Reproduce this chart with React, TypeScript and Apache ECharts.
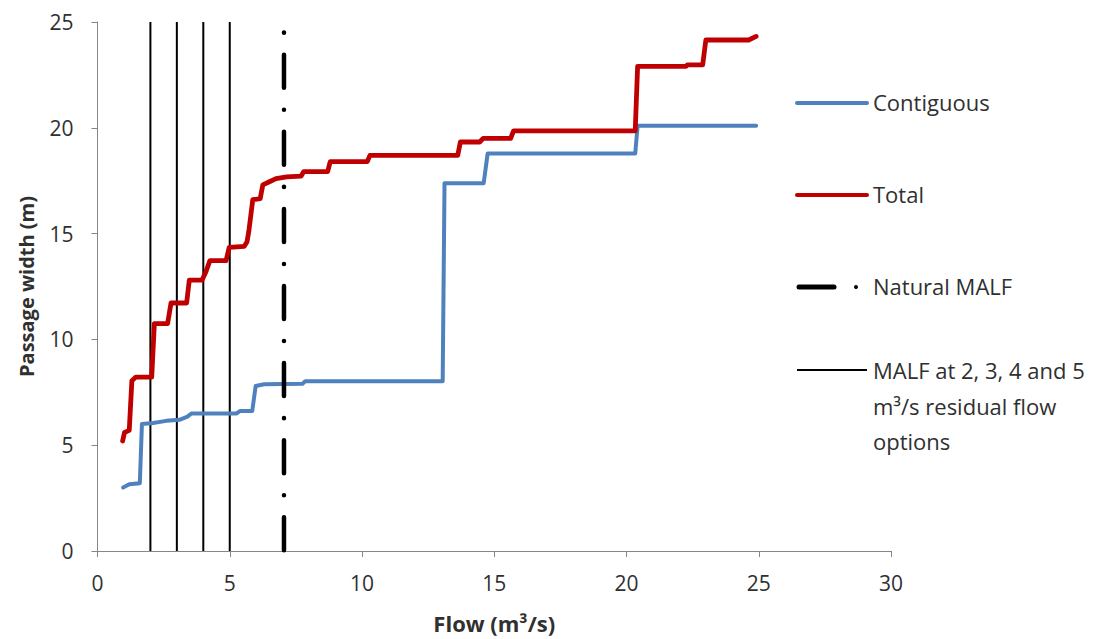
import React, { useEffect, useRef } from "react";
import * as echarts from "echarts";

// Contiguous passage width (m) vs flow (m³/s)
const contiguousFlow = [0.97, 1.2, 1.6, 1.68, 2.1, 2.6, 3.1, 3.4, 3.55, 5.25, 5.4, 5.85, 5.98, 6.3, 7.75, 7.85, 13.05, 13.12, 14.6, 14.75, 20.33, 20.42, 24.9];
const contiguousWidth = [3.0, 3.15, 3.2, 6.0, 6.05, 6.15, 6.2, 6.35, 6.5, 6.5, 6.62, 6.62, 7.8, 7.88, 7.9, 8.02, 8.02, 17.38, 17.38, 18.78, 18.78, 20.1, 20.1];

// Total passage width (m) vs flow (m³/s)
const totalFlow = [0.95, 1.02, 1.2, 1.3, 1.45, 2.05, 2.15, 2.65, 2.78, 3.37, 3.47, 3.95, 4.1, 4.25, 4.86, 4.98, 5.55, 5.65, 5.72, 5.87, 6.15, 6.25, 6.5, 6.75, 7.15, 7.7, 7.8, 8.7, 8.8, 10.2, 10.3, 13.62, 13.72, 14.45, 14.58, 15.62, 15.73, 20.33, 20.42, 22.25, 22.3, 22.88, 23.0, 24.62, 24.9];
const totalWidth = [5.2, 5.6, 5.7, 8.05, 8.22, 8.22, 10.75, 10.75, 11.72, 11.72, 12.8, 12.8, 13.2, 13.72, 13.72, 14.35, 14.4, 14.6, 15.1, 16.6, 16.65, 17.3, 17.45, 17.6, 17.68, 17.72, 17.93, 17.93, 18.4, 18.4, 18.7, 18.7, 19.33, 19.33, 19.5, 19.5, 19.85, 19.85, 22.9, 22.9, 22.97, 22.97, 24.15, 24.15, 24.32];

// Vertical reference lines
const residualMalfFlows = [2, 3, 4, 5];
const naturalMalfFlow = 7.05;
const naturalMalfTop = 24.5;
const axisTop = 25;

const xTicks = { min: 0, max: 30, interval: 5 };
const yTicks = { min: 0, max: 25, interval: 5 };

const legendLabels = ["Contiguous", "Total", "Natural MALF", "MALF at 2, 3, 4 and 5 m³/s residual flow options"];
const legendLastLines = ["MALF at 2, 3, 4 and 5", "m³/s residual flow", "options"];

const BLUE = "#4F81BD";
const RED = "#C00000";
const TEXT = "#303030";
const AXIS = "#868686";
const FONT = "'Open Sans', 'Liberation Sans', sans-serif";

export default function App() {
  const ref = useRef<HTMLDivElement>(null);
  useEffect(() => {
    if (!ref.current) return;
    const chart = echarts.init(ref.current, undefined, { renderer: "svg" });
    const pairs = (xs: number[], ys: number[]) => xs.map((x, i) => [x, ys[i]]);

    const series: any[] = [
      {
        name: legendLabels[0],
        type: "line",
        data: pairs(contiguousFlow, contiguousWidth),
        showSymbol: false,
        symbol: "none",
        lineStyle: { color: BLUE, width: 4, cap: "round", join: "round" },
        z: 3,
      },
      {
        name: legendLabels[1],
        type: "line",
        data: pairs(totalFlow, totalWidth),
        showSymbol: false,
        symbol: "none",
        lineStyle: { color: RED, width: 4.8, cap: "round", join: "round" },
        z: 3,
      },
      {
        name: legendLabels[2],
        type: "line",
        data: [
          [naturalMalfFlow, naturalMalfTop],
          [naturalMalfFlow, 0],
        ],
        showSymbol: false,
        symbol: "none",
        lineStyle: { color: "#000", width: 4.5, type: [0.1, 22, 33, 22], cap: "round" },
        z: 4,
      },
      ...residualMalfFlows.map((f) => ({
        name: legendLabels[3],
        type: "line",
        data: [
          [f, 0],
          [f, axisTop],
        ],
        showSymbol: false,
        symbol: "none",
        lineStyle: { color: "#000", width: 2 },
        z: 2,
      })),
    ];

    const lx0 = 797;
    const lx1 = 867;
    const tx = 873;
    const legendText = (y: number, text: string) => ({
      type: "text",
      x: tx,
      y,
      style: { text, font: `22px ${FONT}`, fill: TEXT, verticalAlign: "middle", align: "left" },
    });

    chart.setOption({
      animation: false,
      backgroundColor: "#fff",
      grid: { left: 97.5, right: 218, top: 22, bottom: 88, containLabel: false },
      xAxis: {
        type: "value",
        min: xTicks.min,
        max: xTicks.max,
        interval: xTicks.interval,
        name: "Flow (m³/s)",
        nameLocation: "middle",
        nameGap: 61,
        nameTextStyle: { fontFamily: FONT, fontSize: 22, fontWeight: "bold", color: TEXT },
        axisLine: { show: true, lineStyle: { color: AXIS, width: 1 } },
        axisTick: { show: true, length: 6, lineStyle: { color: AXIS } },
        splitLine: { show: false },
        axisLabel: { fontFamily: FONT, fontSize: 21, color: TEXT, margin: 21 },
      },
      yAxis: {
        type: "value",
        min: yTicks.min,
        max: yTicks.max,
        interval: yTicks.interval,
        name: "Passage width (m)",
        nameLocation: "middle",
        nameGap: 61,
        nameTextStyle: { fontFamily: FONT, fontSize: 20, fontWeight: "bold", color: TEXT },
        axisLine: { show: true, lineStyle: { color: AXIS, width: 1 } },
        axisTick: { show: true, length: 6, lineStyle: { color: AXIS } },
        splitLine: { show: false },
        axisLabel: { fontFamily: FONT, fontSize: 21, color: TEXT, margin: 24 },
      },
      series,
      graphic: [
        { type: "line", shape: { x1: lx0, y1: 103, x2: lx1, y2: 103 }, style: { stroke: BLUE, lineWidth: 4, lineCap: "round" } },
        legendText(102, legendLabels[0]),
        { type: "line", shape: { x1: lx0, y1: 195, x2: lx1, y2: 195 }, style: { stroke: RED, lineWidth: 4, lineCap: "round" } },
        legendText(194, legendLabels[1]),
        { type: "line", shape: { x1: lx0 + 2, y1: 287, x2: 834, y2: 287 }, style: { stroke: "#000", lineWidth: 5, lineCap: "round" } },
        { type: "circle", shape: { cx: 856, cy: 287, r: 2 }, style: { fill: "#000" } },
        legendText(286, legendLabels[2]),
        { type: "line", shape: { x1: lx0, y1: 370, x2: lx1, y2: 370 }, style: { stroke: "#000", lineWidth: 2 } },
        legendText(370, legendLastLines[0]),
        legendText(406, legendLastLines[1]),
        legendText(441, legendLastLines[2]),
      ],
    });
    return () => chart.dispose();
  }, []);
  return <div ref={ref} style={{ position: "absolute", left: 0, top: 0, width: 1109, height: 639 }} />;
}
